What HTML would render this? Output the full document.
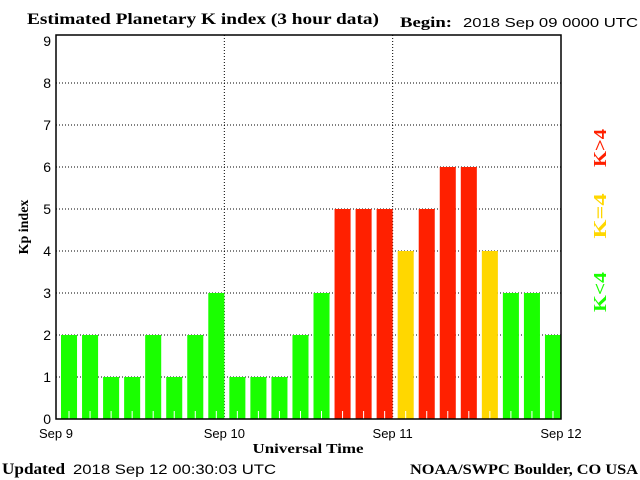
<!DOCTYPE html>
<html><head><meta charset="utf-8"><style>
body{margin:0;background:#fff;width:640px;height:480px;overflow:hidden}
svg{display:block}
</style></head><body>
<svg id="chart" width="640" height="480" xmlns="http://www.w3.org/2000/svg">
<text x="27" y="24" font-family="Liberation Serif, serif" font-weight="bold" font-size="16" textLength="352" lengthAdjust="spacingAndGlyphs">Estimated Planetary K index (3 hour data)</text>
<text x="400" y="27" font-family="Liberation Serif, serif" font-weight="bold" font-size="15" textLength="52" lengthAdjust="spacingAndGlyphs">Begin:</text>
<text x="463" y="27" font-family="Liberation Sans, sans-serif" font-size="13" textLength="175" lengthAdjust="spacingAndGlyphs">2018 Sep 09 0000 UTC</text>
<g id="grid"></g>
<g id="bars"></g>
<rect x="56" y="35" width="505" height="384" fill="none" stroke="#000" stroke-width="1.5"/>
<g id="yticks" font-family="Liberation Sans, sans-serif" font-size="14"></g>
<g id="xticks" font-family="Liberation Sans, sans-serif" font-size="13"></g>
<text x="308" y="453" text-anchor="middle" font-family="Liberation Serif, serif" font-weight="bold" font-size="14" textLength="111" lengthAdjust="spacingAndGlyphs">Universal Time</text>
<text transform="translate(28,227) rotate(-90)" text-anchor="middle" font-family="Liberation Serif, serif" font-weight="bold" font-size="14">Kp index</text>
<text transform="translate(606,148) rotate(-90)" text-anchor="middle" fill="#ff2000" font-family="Liberation Serif, serif" font-weight="bold" font-size="18" textLength="38" lengthAdjust="spacingAndGlyphs">K&gt;4</text>
<text transform="translate(606,216) rotate(-90)" text-anchor="middle" fill="#ffd700" font-family="Liberation Serif, serif" font-weight="bold" font-size="18" textLength="45" lengthAdjust="spacingAndGlyphs">K=4</text>
<text transform="translate(606,292) rotate(-90)" text-anchor="middle" fill="#1aff00" font-family="Liberation Serif, serif" font-weight="bold" font-size="18" textLength="40" lengthAdjust="spacingAndGlyphs">K&lt;4</text>
<text x="2" y="474" font-family="Liberation Serif, serif" font-weight="bold" font-size="16" textLength="63" lengthAdjust="spacingAndGlyphs">Updated</text>
<text x="73" y="474" font-family="Liberation Sans, sans-serif" font-size="14" textLength="203" lengthAdjust="spacingAndGlyphs">2018 Sep 12 00:30:03 UTC</text>
<text x="410" y="474" font-family="Liberation Serif, serif" font-weight="bold" font-size="15" textLength="228" lengthAdjust="spacingAndGlyphs">NOAA/SWPC Boulder, CO USA</text>
</svg>
<script>
const kpValues = [2,2,1,1,2,1,2,3, 1,1,1,2,3,5,5,5, 4,5,6,6,4,3,3,2];
const yTickLabels = [0,1,2,3,4,5,6,7,8,9];
const dayLabels = ["Sep 9","Sep 10","Sep 11","Sep 12"];
const NS = "http://www.w3.org/2000/svg";
const x0 = 56, x1 = 561, y0 = 419, yUnit = 42;
const slot = (x1 - x0) / kpValues.length;
const xPos = i => x0 + i * slot;
const yPos = v => y0 - v * yUnit;
function mk(tag, attrs, parent){const e=document.createElementNS(NS,tag);for(const k in attrs)e.setAttribute(k,attrs[k]);parent.appendChild(e);return e;}
const grid = document.getElementById('grid');
yTickLabels.forEach(v=>{
  if(v>0 && v<9){
    const l = mk('line',{x1:x0,x2:x1,y1:yPos(v),y2:yPos(v),stroke:'#000','stroke-dasharray':'1,2'},grid);
    
    
  }
  const t = mk('text',{x:x0-5,y:yPos(v)+5,'text-anchor':'end'},document.getElementById('yticks'));
  t.textContent = v;
  
  
});
const dayW = (x1-x0)/(dayLabels.length-1);
dayLabels.forEach((d,i)=>{
  const x = x0 + i*dayW;
  if(i>0 && i<dayLabels.length-1){
    const l = mk('line',{x1:x,x2:x,y1:35,y2:y0,stroke:'#000','stroke-dasharray':'1,2'},grid);
    
    
  }
  const t = mk('text',{x:x,y:438,'text-anchor':'middle'},document.getElementById('xticks'));
  t.textContent = d;
  
  
});
const bars = document.getElementById('bars');
kpValues.forEach((v,i)=>{
  const c = v<4 ? '#1aff00' : (v===4 ? '#ffd700' : '#ff2000');
  const r = mk('rect',{x:xPos(i)+5,y:yPos(v),width:slot-5,height:v*yUnit,fill:c},bars);
  
  
  const tk = mk('line',{x1:xPos(i)+slot/2+2.5,x2:xPos(i)+slot/2+2.5,y1:y0-8,y2:y0,stroke:'#fff'},bars);
  
  
});
</script>
</body></html>
